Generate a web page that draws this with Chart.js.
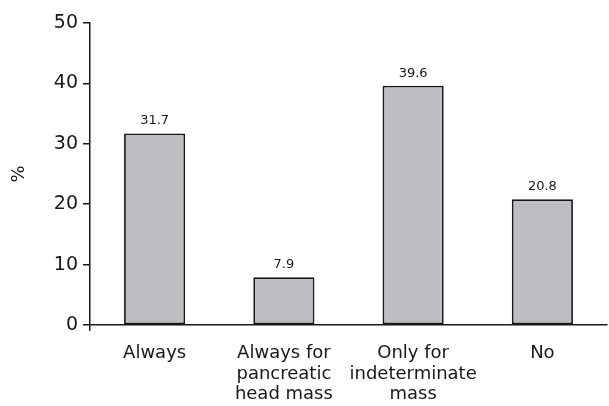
<!DOCTYPE html>
<html>
<head>
<meta charset="utf-8">
<script src="https://cdn.jsdelivr.net/npm/chart.js@4"></script>
<style>
  html, body { margin: 0; padding: 0; background: #fff; }
  #wrap { width: 609px; height: 406px; }
</style>
</head>
<body>
<div id="wrap"><canvas id="c" width="609" height="406"></canvas></div>
<script>
// bar chart: share of respondents (%) per answer
const categories = [
  ['Always'],
  ['Always for', 'pancreatic', 'head mass'],
  ['Only for', 'indeterminate', 'mass'],
  ['No'],
];
const percents = [31.7, 7.9, 39.6, 20.8];
const yTicks = [0, 10, 20, 30, 40, 50];

const INK = '#1a1718';
const FONT = '"DejaVu Sans", sans-serif';

// value labels above each bar
const valueLabels = {
  id: 'valueLabels',
  afterDatasetsDraw(chart) {
    const { ctx } = chart;
    const meta = chart.getDatasetMeta(0);
    ctx.save();
    ctx.font = '13px ' + FONT;
    ctx.fillStyle = INK;
    ctx.textAlign = 'center';
    ctx.textBaseline = 'bottom';
    meta.data.forEach((bar, i) => {
      ctx.fillText(percents[i].toFixed(1), bar.x, bar.y - 6);
    });
    ctx.restore();
  },
};

new Chart(document.getElementById('c'), {
  type: 'bar',
  data: {
    labels: categories,
    datasets: [{
      data: percents,
      backgroundColor: '#bdbec1',
      borderColor: INK,
      borderWidth: 1.8,
      borderSkipped: false,
      categoryPercentage: 1,
      barPercentage: 0.473,
    }],
  },
  options: {
    responsive: false,
    animation: false,
    layout: { padding: { top: 23, right: 2, left: 0, bottom: 0 } },
    plugins: { legend: { display: false }, tooltip: { enabled: false } },
    scales: {
      x: {
        afterFit: (s) => { s.height = 81; },
        grid: {
          offset: true,
          drawOnChartArea: false,
          tickLength: 6,
          lineWidth: 1.5,
          color: (c) => (c.index === 0 || c.index === categories.length) ? INK : 'rgba(0,0,0,0)',
        },
        border: { color: INK, width: 1.5 },
        ticks: {
          color: INK,
          font: { family: FONT, size: 18, lineHeight: 1.15 },
          padding: 12,
          maxRotation: 0,
          autoSkip: false,
        },
      },
      y: {
        min: 0,
        max: 50,
        afterBuildTicks: (s) => { s.ticks = yTicks.map(v => ({ value: v })); },
        afterFit: (s) => { s.width = 90; },
        grid: { drawOnChartArea: false, tickLength: 7, lineWidth: 1.5, color: INK },
        border: { color: INK, width: 1.5 },
        ticks: {
          color: INK,
          font: { family: FONT, size: 19 },
          padding: 5,
        },
        title: {
          display: true,
          text: '%',
          color: INK,
          font: { family: FONT, size: 18 },
          padding: { top: 9, bottom: 0 },
        },
      },
    },
  },
  plugins: [valueLabels],
});
</script>
</body>
</html>
